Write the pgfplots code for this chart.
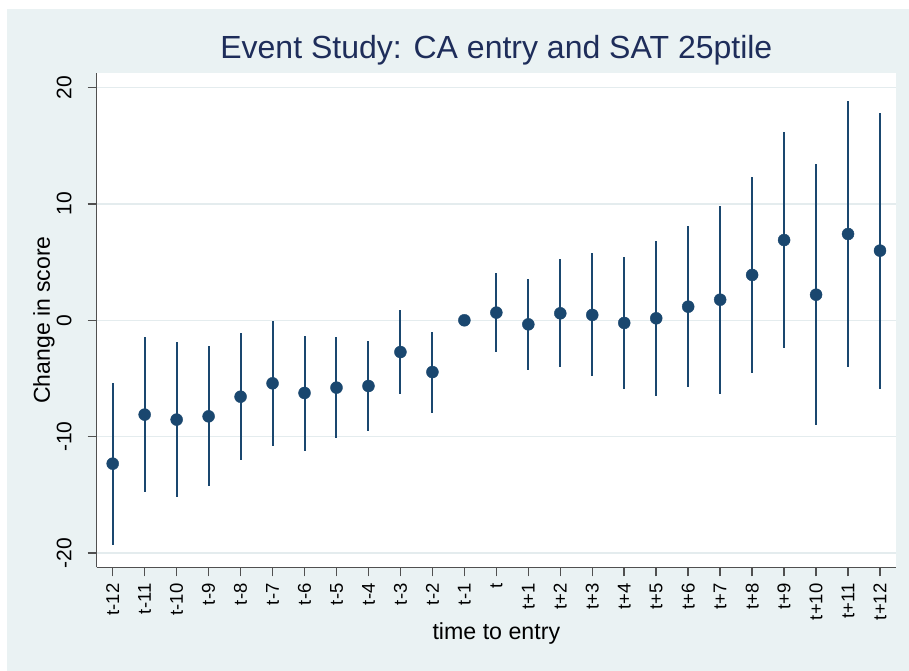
\documentclass[border=0pt]{standalone}
\usepackage{fontspec}
\setmainfont{Liberation Sans}
\usepackage{pgfplots}
\usepackage{pgfplotstable}
\pgfplotsset{compat=1.18}
\definecolor{bgc}{RGB}{234,242,243}
\definecolor{gridc}{RGB}{228,236,238}
\definecolor{stnavy}{RGB}{26,71,111}
\definecolor{titc}{RGB}{30,45,90}
\definecolor{axc}{RGB}{80,80,80}
\pgfplotstableread{
k est lo hi
0 -12.33 -19.30 -5.36
1 -8.11 -14.80 -1.41
2 -8.54 -15.20 -1.87
3 -8.26 -14.28 -2.21
4 -6.57 -11.98 -1.09
5 -5.42 -10.81 -0.02
6 -6.25 -11.21 -1.32
7 -5.79 -10.09 -1.46
8 -5.65 -9.52 -1.81
9 -2.73 -6.31 0.92
10 -4.45 -7.94 -0.98
11 0 0 0
12 0.66 -2.75 4.07
13 -0.35 -4.27 3.55
14 0.60 -4.04 5.24
15 0.46 -4.82 5.76
16 -0.23 -5.94 5.44
17 0.17 -6.48 6.79
18 1.17 -5.71 8.08
19 1.77 -6.31 9.83
20 3.90 -4.50 12.35
21 6.90 -2.35 16.19
22 2.20 -9.03 13.41
23 7.42 -4.02 18.83
24 5.99 -5.88 17.85
}\data
\begin{document}
\begin{tikzpicture}
\fill[white] (0,0) rectangle (909bp,671bp);
\fill[bgc] (7bp,0) rectangle (909bp,662bp);
\begin{axis}[
 at={(96.7bp,103.7bp)}, anchor=south west,
 scale only axis, width=799.3bp, height=494.6bp,
 xmin=-0.5, xmax=24.5, ymin=-21.24, ymax=21.29,
 axis x line*=bottom, axis y line*=left,
 x axis line style={-}, y axis line style={-},
 axis line style={draw=axc, line width=1.5bp},
 axis background/.style={fill=white},
 tick align=outside, major tick length=9bp,
 tick style={draw=axc, line width=1.5bp},
 ytick={-20,-10,0,10,20}, yticklabels={-20,-10,0,10,20},
 xtick={0,...,24},
 xticklabels={t-12,t-11,t-10,t-9,t-8,t-7,t-6,t-5,t-4,t-3,t-2,t-1,t,t+1,t+2,t+3,t+4,t+5,t+6,t+7,t+8,t+9,t+10,t+11,t+12},
 ymajorgrids, grid style={draw=gridc, line width=1.5bp},
 yticklabel style={xshift=-16bp, font=\fontsize{21bp}{25bp}\selectfont, rotate=90, anchor=south, inner sep=0pt},
 xticklabel style={yshift=-7bp, font=\fontsize{18.5bp}{22bp}\selectfont, rotate=90, anchor=east, inner sep=0pt},
 title={Event Study: CA entry and SAT 25ptile},
 every axis title/.style={font=\fontsize{32bp}{38bp}\selectfont, text=titc, at={(axis description cs:0.5,1)}, anchor=base, yshift=14bp},
 ylabel={Change in score},
 ylabel style={font=\fontsize{23bp}{27bp}\selectfont, at={(axis description cs:-0.0659,0.5)}, anchor=center},
 xlabel={time to entry},
 xlabel style={font=\fontsize{23.2bp}{27bp}\selectfont, at={(axis description cs:0.5,-0.145)}, anchor=base},
 clip=false,
]
\addplot[draw=none, mark=none, forget plot,
  error bars/.cd, y dir=both, y explicit, error mark=none,
  error bar style={draw=stnavy, line width=2bp}]
  table[x=k, y=est, y error plus expr=\thisrow{hi}-\thisrow{est}, y error minus expr=\thisrow{est}-\thisrow{lo}] {\data};
\addplot[only marks, mark=*, mark size=6bp, color=stnavy, fill=stnavy] table[x=k, y=est] {\data};
\end{axis}
\end{tikzpicture}
\end{document}
